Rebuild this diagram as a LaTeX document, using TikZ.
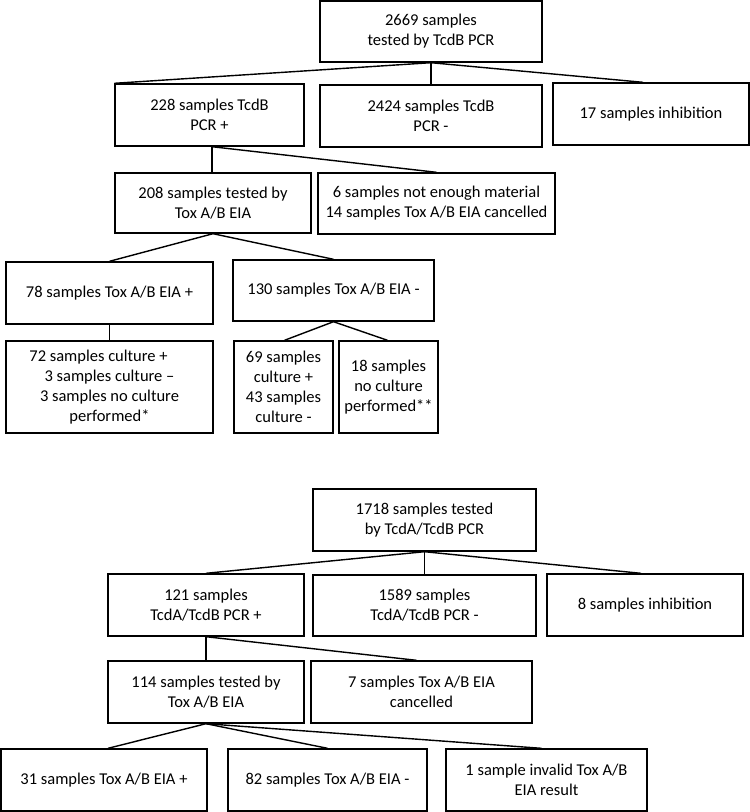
\documentclass[tikz,border=0pt]{standalone}
\usepackage{fontspec}
\setmainfont{Carlito}
\begin{document}
\begin{tikzpicture}[x=1pt,y=-1pt,
  bx/.style={draw=black, line width=1.4pt, align=center, inner sep=0pt,
    font=\fontsize{16.5}{20}\selectfont},
  ln/.style={draw=black, line width=1.4pt}]
\useasboundingbox (0,0) rectangle (750,812);
% top chart
\node[bx, minimum width=222, minimum height=61] (T) at (431,31.5) {2669 samples\\tested by TcdB PCR};
\node[bx, minimum width=189, minimum height=62] (A) at (209.5,115) {228 samples TcdB\\PCR +};
\node[bx, minimum width=222, minimum height=62] (B) at (431,116) {2424 samples TcdB\\PCR -};
\node[bx, minimum width=196, minimum height=62] (C) at (651,114) {17 samples inhibition};
\node[bx, minimum width=196, minimum height=60] (D) at (213,203) {208 samples tested by\\Tox A/B EIA};
\node[bx, minimum width=237, minimum height=61] (E) at (436.5,203.5) {6 samples not enough material\\14 samples Tox A/B EIA cancelled};
\node[bx, minimum width=207, minimum height=62] (F) at (109.5,293) {78 samples Tox A/B EIA +};
\node[bx, minimum width=201, minimum height=61] (G) at (333.5,290.5) {130 samples Tox A/B EIA -};
\node[bx, minimum width=207, minimum height=92] (H) at (109.5,387) {72 samples culture +\hspace*{22pt}\\3 samples culture --\\3 samples no culture\\performed*};
\node[bx, minimum width=99, minimum height=92] (I) at (283.5,387) {69 samples\\culture +\\43 samples\\culture -};
\node[bx, minimum width=99, minimum height=92] (J) at (388.5,387) {18 samples\\no culture\\performed**};
\draw[ln] (T.south) -- (A.north west);
\draw[ln] (T.south) -- (B.north);
\draw[ln] (T.south) -- ([xshift=-8pt]C.north);
\draw[ln] ([xshift=2.5pt]A.south) -- ([xshift=-1pt]D.north);
\draw[ln] ([xshift=2.5pt]A.south) -- (E.north);
\draw[ln] (D.south) -- (F.north);
\draw[ln] (D.south) -- (G.north);
\draw[ln] (F.south) -- (H.north);
\draw[ln] (G.south) -- ([xshift=1pt]I.north);
\draw[ln] (G.south) -- ([xshift=-1pt]J.north);
% bottom chart
\node[bx, minimum width=223, minimum height=62] (T2) at (424.5,520) {1718 samples tested\\by TcdA/TcdB PCR};
\node[bx, minimum width=196, minimum height=62] (K) at (206,605) {121 samples\\TcdA/TcdB PCR +};
\node[bx, minimum width=223, minimum height=61] (L) at (424.5,605.5) {1589 samples\\TcdA/TcdB PCR -};
\node[bx, minimum width=196, minimum height=62] (M) at (645,605) {8 samples inhibition};
\node[bx, minimum width=196, minimum height=62] (N) at (206,692) {114 samples tested by\\Tox A/B EIA};
\node[bx, minimum width=221, minimum height=62] (O) at (421.5,692) {7 samples Tox A/B EIA\\cancelled};
\node[bx, minimum width=206, minimum height=62] (P) at (104,780) {31 samples Tox A/B EIA +};
\node[bx, minimum width=199, minimum height=62] (Q) at (327.5,780) {82 samples Tox A/B EIA -};
\node[bx, minimum width=201, minimum height=62] (R) at (546.5,780) {1 sample invalid Tox A/B\\EIA result};
\draw[ln] (T2.south) -- (K.north);
\draw[ln] (T2.south) -- (L.north);
\draw[ln] (T2.south) -- ([xshift=-4pt]M.north);
\draw[ln] (K.south) -- (N.north);
\draw[ln] (K.south) -- ([xshift=-5pt]O.north);
\draw[ln] (N.south) -- ([xshift=4pt]P.north);
\draw[ln] (N.south) -- (Q.north);
\draw[ln] (N.south) -- ([xshift=-5pt]R.north);
\end{tikzpicture}
\end{document}
